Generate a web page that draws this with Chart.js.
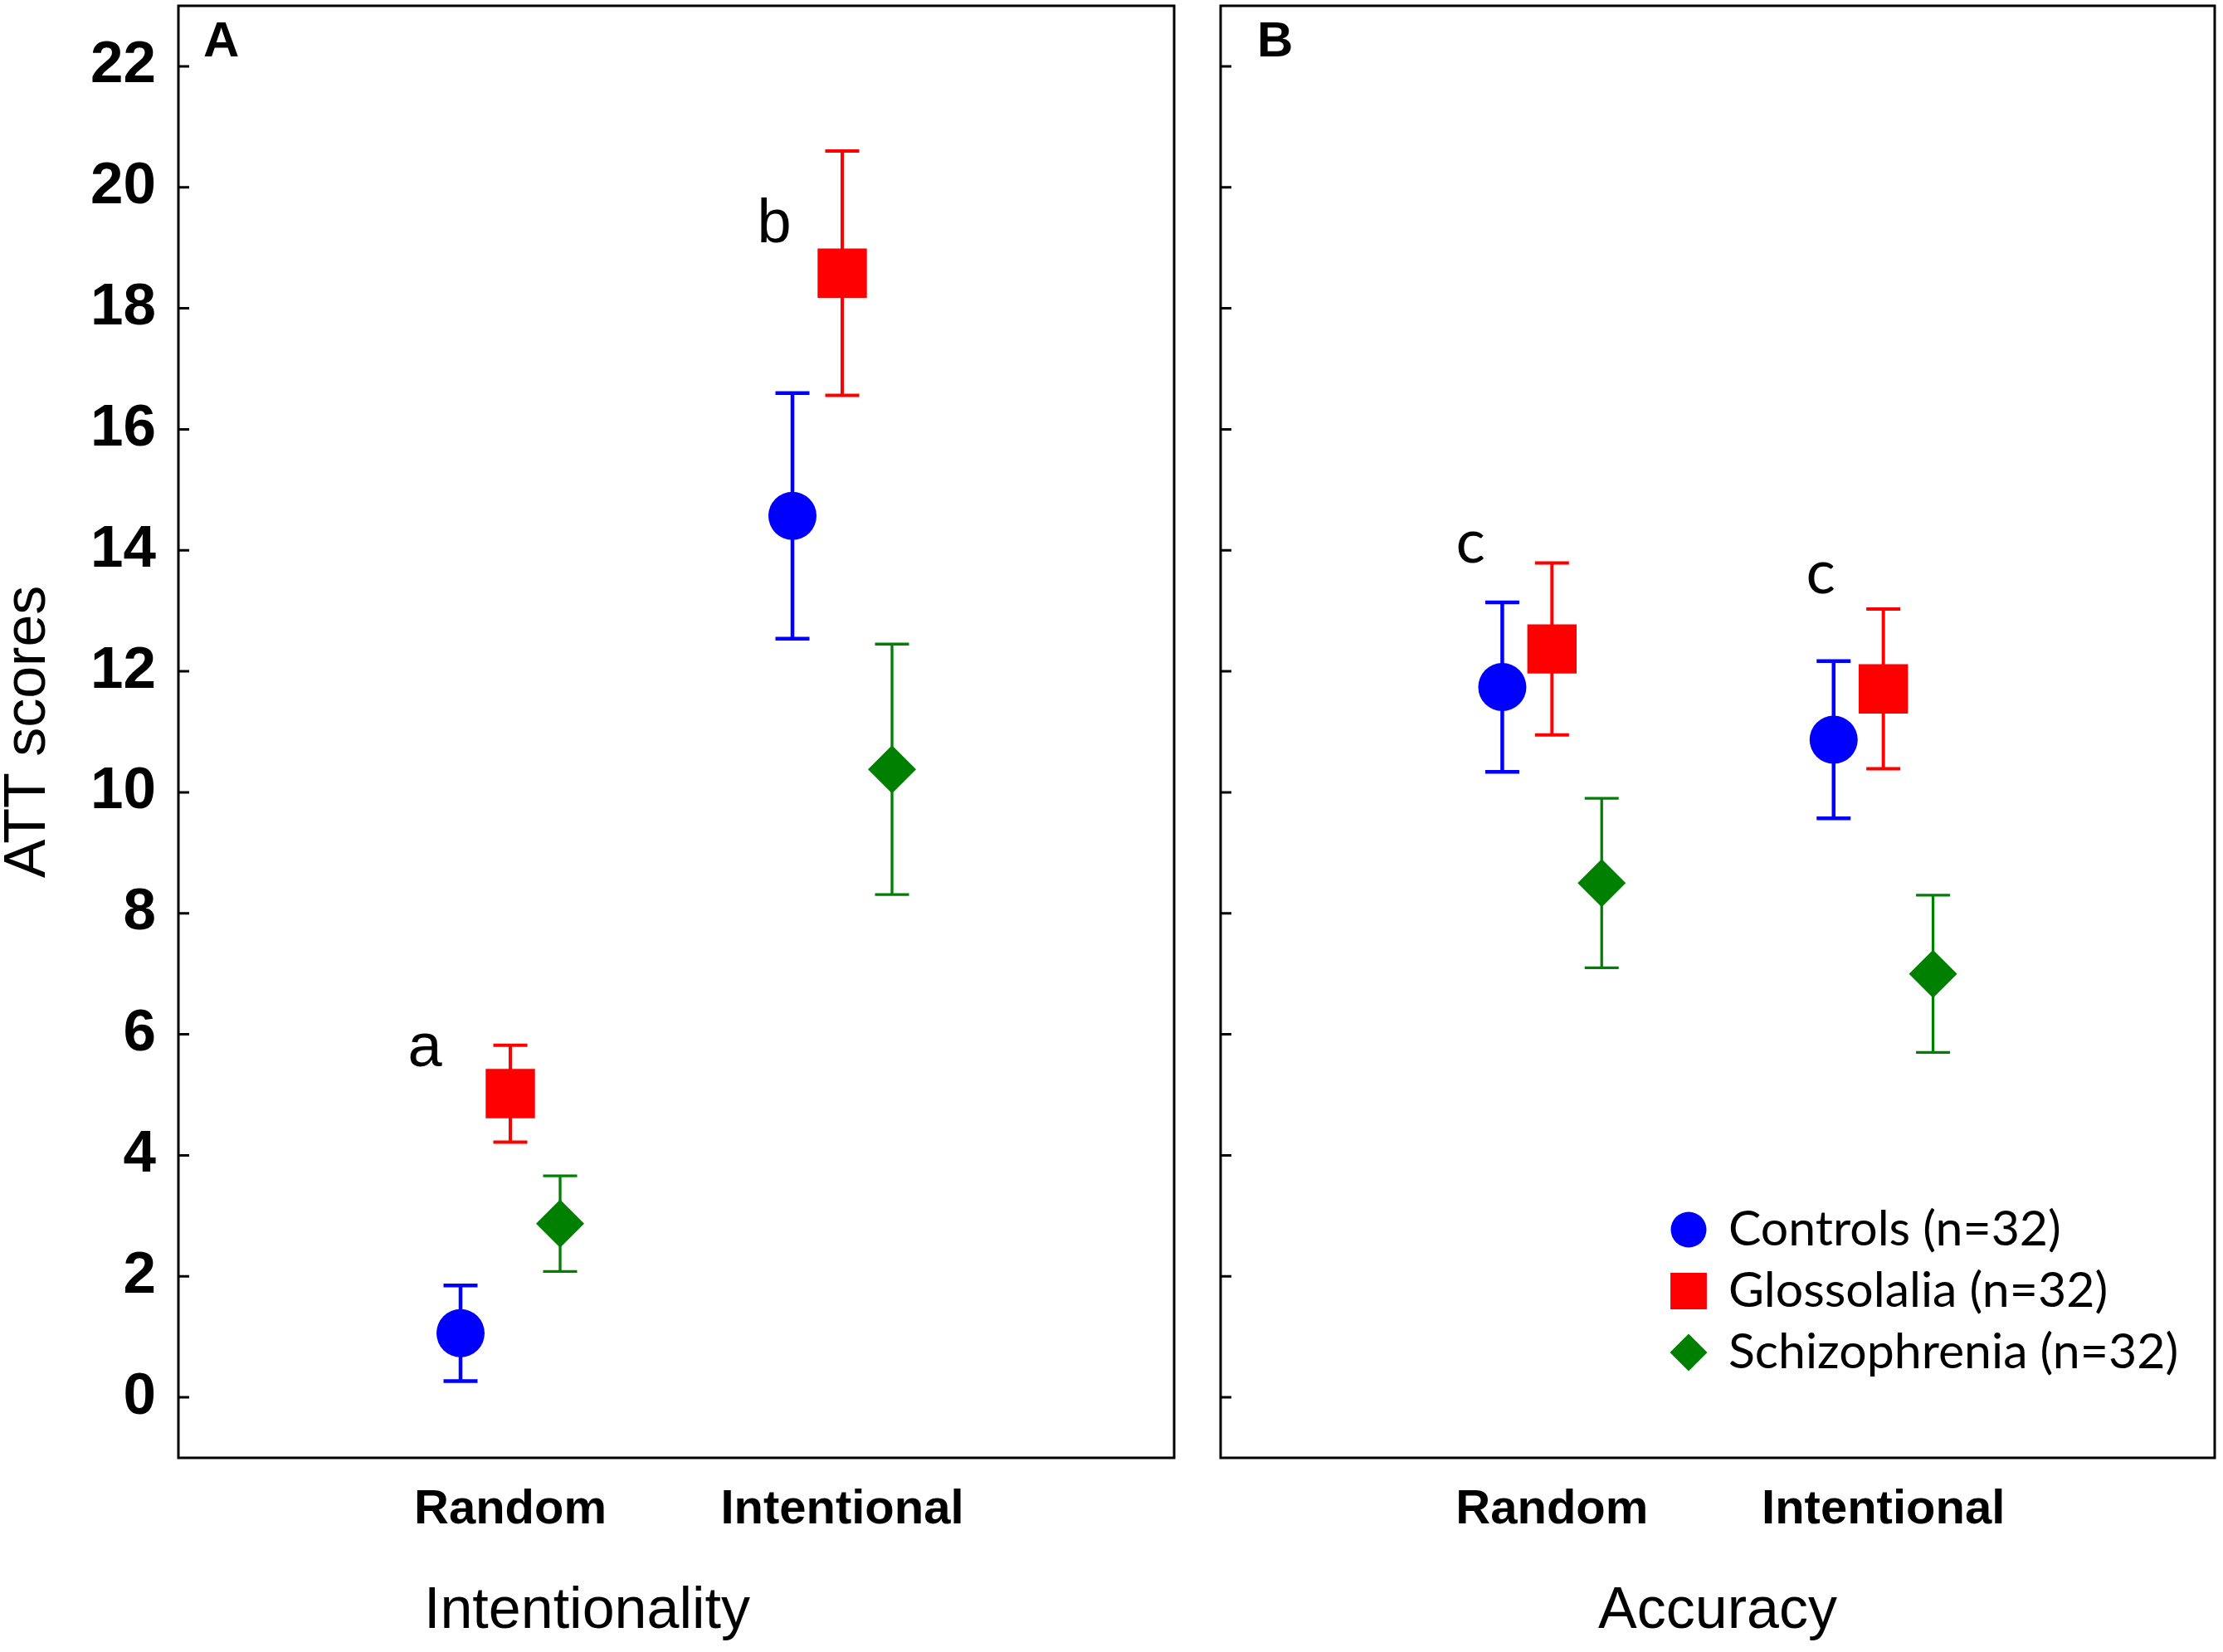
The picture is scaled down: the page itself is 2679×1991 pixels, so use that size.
<!DOCTYPE html>
<html>
<head>
<meta charset="utf-8">
<title>ATT scores</title>
<script src="https://cdn.jsdelivr.net/npm/chart.js@4.4.1/dist/chart.umd.min.js"></script>
<style>
  html, body { margin: 0; padding: 0; background: #fff; }
  #wrap { position: relative; width: 2679px; height: 1991px; overflow: hidden; background: #fff; }
  #wrap canvas { position: absolute; top: 0; }
  #panelA { left: 0; }
  #panelB { left: 1461px; }
</style>
</head>
<body>
<div id="wrap">
  <canvas id="panelA" width="1430" height="1991"></canvas>
  <canvas id="panelB" width="1218" height="1991"></canvas>
</div>
<script>
// x categories (shared by both panels) and group names
const categories = ['Random', 'Intentional'];
const groupNames = ['Controls (n=32)', 'Glossolalia (n=32)', 'Schizophrenia (n=32)'];
const yTickValues = [0, 2, 4, 6, 8, 10, 12, 14, 16, 18, 20, 22];

// Panel A - Intentionality (mean, error half-length)
const intentControls = [1.06, 14.57];
const intentControlsErr = [0.79, 2.03];
const intentGlosso = [5.02, 18.58];
const intentGlossoErr = [0.80, 2.02];
const intentSchizo = [2.87, 10.38];
const intentSchizoErr = [0.79, 2.07];

// Panel B - Accuracy (mean, error half-length)
const accControls = [11.74, 10.87];
const accControlsErr = [1.40, 1.30];
const accGlosso = [12.37, 11.71];
const accGlossoErr = [1.42, 1.32];
const accSchizo = [8.50, 7.00];
const accSchizoErr = [1.40, 1.30];

// Significance letters
const lettersA = [{ text: 'a', x: 0.743, y: 5.47 }, { text: 'b', x: 1.795, y: 19.09 }];
const lettersB = [{ text: 'c', x: 0.754, y: 13.8 }, { text: 'c', x: 1.811, y: 13.29 }];

const ARIAL = '"Liberation Sans", Arial, Helvetica, sans-serif';
const CALIBRI = 'Lato, "Open Sans", sans-serif';

// marker look for each group, same order as groupNames
const groupStyles = [
  { color: '#0000FF', pointStyle: 'circle', radius: 29, legendRadius: 21.5, errWidth: 4.5 },
  { color: '#FF0000', pointStyle: 'rect', radius: 42, legendRadius: 31, errWidth: 4 },
  { color: '#008000', pointStyle: 'rectRot', radius: 29, legendRadius: 22.5, errWidth: 3.3 }
];
const groupOffsets = [-0.15, 0, 0.15];

/**
 * Build one scatter dataset with error values attached
 */
function makeDataset(g, means, errs) {
  const st = groupStyles[g];
  return {
    label: groupNames[g],
    data: means.map((m, i) => ({ x: i + 1 + groupOffsets[g], y: m })),
    errors: errs,
    errWidth: st.errWidth,
    legendRadius: st.legendRadius,
    pointStyle: st.pointStyle,
    pointRadius: st.radius,
    pointHoverRadius: st.radius,
    backgroundColor: st.color,
    borderColor: st.color,
    pointBorderWidth: 0,
    showLine: false
  };
}

/**
 * Drop the edge padding Chart.js reserves for tick labels
 */
function noEdgePadding(scale) {
  scale.paddingLeft = 0;
  scale.paddingRight = 0;
  scale.paddingTop = 0;
  scale.paddingBottom = 0;
}

/**
 * Frame, inner ticks, error bars, letters and legend
 */
const panelDecor = {
  id: 'panelDecor',
  beforeDatasetsDraw(chart, args, opts) {
    const { ctx, scales: { x, y } } = chart;
    ctx.save();
    chart.data.datasets.forEach(ds => {
      ctx.strokeStyle = ds.borderColor;
      ctx.lineWidth = ds.errWidth;
      ds.data.forEach((pt, i) => {
        const px = x.getPixelForValue(pt.x);
        const lo = y.getPixelForValue(pt.y - ds.errors[i]);
        const hi = y.getPixelForValue(pt.y + ds.errors[i]);
        ctx.beginPath();
        ctx.moveTo(px, lo);
        ctx.lineTo(px, hi);
        ctx.moveTo(px - 20.5, lo);
        ctx.lineTo(px + 20.5, lo);
        ctx.moveTo(px - 20.5, hi);
        ctx.lineTo(px + 20.5, hi);
        ctx.stroke();
      });
    });
    ctx.restore();
  },
  afterDraw(chart, args, opts) {
    const { ctx, chartArea: area, scales: { x, y } } = chart;
    ctx.save();

    // box around the plot
    ctx.strokeStyle = '#000';
    ctx.lineWidth = 3;
    ctx.strokeRect(area.left, area.top, area.right - area.left, area.bottom - area.top);

    // ticks pointing inwards
    ctx.beginPath();
    yTickValues.forEach(v => {
      const py = y.getPixelForValue(v);
      ctx.moveTo(area.left, py);
      ctx.lineTo(area.left + 13, py);
    });
    ctx.stroke();

    // panel letter
    ctx.fillStyle = '#000';
    ctx.font = 'bold 60px ' + ARIAL;
    ctx.textAlign = 'left';
    ctx.textBaseline = 'alphabetic';
    ctx.fillText(opts.panel, area.left + opts.panelDx, area.top + 61);

    // significance letters
    ctx.font = opts.letterFont;
    ctx.textAlign = 'center';
    opts.letters.forEach(l => {
      ctx.fillText(l.text, x.getPixelForValue(l.x), y.getPixelForValue(l.y));
    });

    // legend
    if (opts.legend) {
      const lg = opts.legend;
      ctx.font = '59px ' + CALIBRI;
      ctx.textAlign = 'left';
      ctx.textBaseline = 'middle';
      chart.data.datasets.forEach((ds, i) => {
        const ry = area.top + lg.top + i * lg.gap;
        ctx.fillStyle = ds.backgroundColor;
        Chart.helpers.drawPoint(ctx, {
          pointStyle: ds.pointStyle, radius: ds.legendRadius, rotation: 0, borderWidth: 0
        }, area.left + lg.markerX, ry);
        ctx.fillStyle = '#000';
        ctx.fillText(ds.label, area.left + lg.textX, ry);
      });
    }
    ctx.restore();
  }
};

/**
 * Create one panel of the figure
 */
function createPanel(canvasId, cfg) {
  const ctx = document.getElementById(canvasId);
  return new Chart(ctx, {
    type: 'scatter',
    data: { datasets: cfg.datasets },
    options: {
      responsive: false,
      animation: false,
      events: [],
      layout: { padding: cfg.padding, autoPadding: false },
      plugins: {
        legend: { display: false },
        tooltip: { enabled: false },
        title: {
          display: true,
          position: 'bottom',
          text: cfg.xTitle,
          color: '#000',
          font: { family: ARIAL, size: 70, weight: 'normal', lineHeight: 1.2 },
          padding: { top: 0, bottom: 6 }
        },
        panelDecor: cfg.decor
      },
      scales: {
        x: {
          type: 'linear',
          min: 0,
          max: 3,
          grid: { display: false, drawTicks: false },
          border: { display: false },
          afterBuildTicks: scale => { scale.ticks = categories.map((c, i) => ({ value: i + 1 })); },
          afterFit: scale => { scale.height = 144; noEdgePadding(scale); },
          ticks: {
            autoSkip: false,
            maxRotation: 0,
            padding: 28,
            color: '#000',
            font: { family: ARIAL, size: 58, weight: 'bold' },
            callback: v => categories[v - 1]
          }
        },
        y: {
          type: 'linear',
          min: -1,
          max: 23,
          grid: { display: false, drawTicks: false },
          border: { display: false },
          afterBuildTicks: scale => { scale.ticks = yTickValues.map(v => ({ value: v })); },
          afterFit: scale => { scale.width = cfg.yWidth; noEdgePadding(scale); },
          title: {
            display: !!cfg.yTitle,
            text: cfg.yTitle,
            color: '#000',
            font: { family: ARIAL, size: 70, lineHeight: 1 },
            padding: 0
          },
          ticks: {
            display: cfg.yLabels,
            padding: 27,
            color: '#000',
            font: { family: ARIAL, size: 71, weight: 'bold' }
          }
        }
      }
    },
    plugins: [panelDecor]
  });
}

createPanel('panelA', {
  datasets: [
    makeDataset(0, intentControls, intentControlsErr),
    makeDataset(1, intentGlosso, intentGlossoErr),
    makeDataset(2, intentSchizo, intentSchizoErr)
  ],
  padding: { left: 0, right: 15, top: 7, bottom: 0 },
  yWidth: 215,
  yTitle: 'ATT scores',
  yLabels: true,
  xTitle: 'Intentionality',
  decor: { panel: 'A', panelDx: 30, letters: lettersA, letterFont: '74px ' + ARIAL }
});

createPanel('panelB', {
  datasets: [
    makeDataset(0, accControls, accControlsErr),
    makeDataset(1, accGlosso, accGlossoErr),
    makeDataset(2, accSchizo, accSchizoErr)
  ],
  padding: { left: 10, right: 10, top: 7, bottom: 0 },
  yWidth: 0,
  yTitle: '',
  yLabels: false,
  xTitle: 'Accuracy',
  decor: {
    panel: 'B', panelDx: 44, letters: lettersB, letterFont: '74px ' + CALIBRI,
    legend: { markerX: 564, textX: 612, top: 1475, gap: 74 }
  }
});
</script>
</body>
</html>
